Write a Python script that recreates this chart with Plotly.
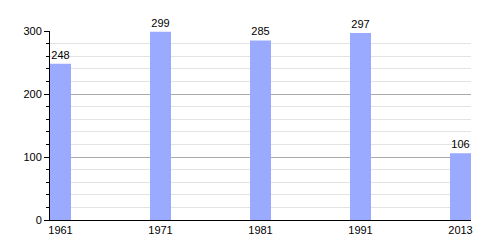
import plotly.graph_objects as go

years = ["1961", "1971", "1981", "1991", "2013"]
values = [248, 299, 285, 297, 106]
positions = [0, 1, 2, 3, 4]

bar_w = 0.21

fig = go.Figure()
fig.add_trace(go.Bar(
    x=positions,
    y=values,
    width=bar_w,
    offset=0,
    marker=dict(color="#99aaff", line=dict(width=0)),
    text=[str(v) for v in values],
    textposition="outside",
    textfont=dict(family="Liberation Sans, Arial", size=11, color="black"),
    cliponaxis=False,
))

fig.update_layout(
    width=500, height=250,
    margin=dict(l=50, r=29, t=31, b=30),
    paper_bgcolor="white", plot_bgcolor="white",
    showlegend=False,
    font=dict(family="Liberation Sans, Arial", size=11, color="black"),
    xaxis=dict(
        range=[0, 4 + bar_w],
        tickvals=[p + bar_w / 2 for p in positions],
        ticktext=years,
        showgrid=False, zeroline=False,
        showline=True, linecolor="black", linewidth=1,
        ticks="", ticklen=0,
        tickfont=dict(size=11),
    ),
    yaxis=dict(
        range=[0, 300],
        tickvals=[0, 100, 200, 300],
        showgrid=True, gridcolor="#aaaaaa", gridwidth=1,
        zeroline=False,
        showline=True, linecolor="black", linewidth=1,
        ticks="outside", ticklen=5, tickcolor="black",
        tickfont=dict(size=11),
        minor=dict(dtick=20, showgrid=True, gridcolor="#e3e3e3",
                   ticks="outside", ticklen=3, tickcolor="black"),
    ),
)

fig.write_html("out.html")
